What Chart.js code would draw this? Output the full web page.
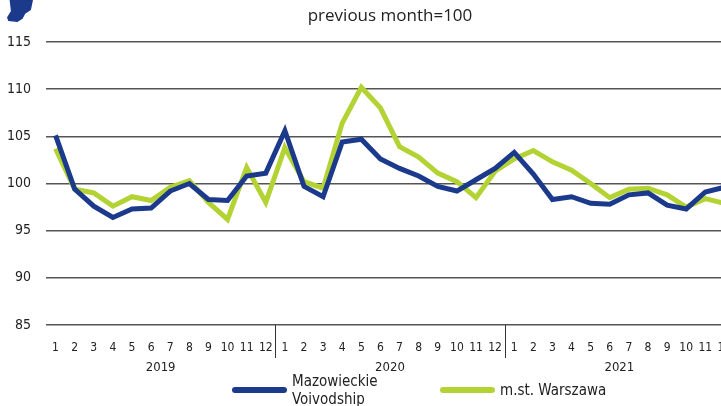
<!DOCTYPE html>
<html>
<head>
<meta charset="utf-8">
<script src="https://cdn.jsdelivr.net/npm/chart.js@4/dist/chart.umd.min.js"></script>
<style>
  html, body { margin: 0; padding: 0; background: #fff; overflow: hidden; }
  #wrap { position: relative; width: 721px; height: 406px; overflow: hidden; }
  #chart { position: absolute; left: 0; top: 0; }
  .blob { position: absolute; left: 7px; top: 0; width: 26px; height: 22px; background: #1c3a8c;
          clip-path: polygon(10% 0, 100% 0, 92% 45%, 70% 62%, 60% 85%, 40% 100%, 5% 95%, 0 80%, 15% 50%); }
  .legend { position: absolute; top: 372px; font-family: "Liberation Sans Narrow", "DejaVu Sans Condensed", sans-serif; font-size: 15px; color: #222; line-height: 18px; }
  .legend .sw { position: absolute; top: 15px; width: 55px; height: 6px; border-radius: 3px; }
  .legend .txt { position: absolute; white-space: nowrap; }
</style>
</head>
<body>
<div id="wrap">
  <canvas id="chart" width="742" height="406" style="width:742px;height:406px"></canvas>
  <div class="blob"></div>
  <div class="legend" style="left:232px">
    <div class="sw" style="left:0;background:#1c3a8c"></div>
    <div class="txt" style="left:60px;top:0">Mazowieckie<br>Voivodship</div>
  </div>
  <div class="legend" style="left:440px">
    <div class="sw" style="left:0;background:#b3d335"></div>
    <div class="txt" style="left:60px;top:9px">m.st. Warszawa</div>
  </div>
</div>
<script>
const years  = ['2019', '2020', '2021']
const months = ['1', '2', '3', '4', '5', '6', '7', '8', '9', '10', '11', '12']
const labels = years.flatMap(() => months)

const mazowieckie = [
  105.1, 99.4, 97.6, 96.4, 97.3, 97.4, 99.2, 100.0, 98.3, 98.2, 100.8, 101.1,
  105.6, 99.7, 98.6, 104.4, 104.7, 102.6, 101.6, 100.8, 99.7, 99.2, 100.4, 101.6,
  103.3, 101.0, 98.3, 98.6, 97.9, 97.8, 98.8, 99.0, 97.7, 97.3, 99.1, 99.6
]
const warszawa = [
  103.7, 99.4, 99.0, 97.6, 98.6, 98.2, 99.6, 100.3, 98.0, 96.2, 101.7, 98.0,
  103.8, 100.2, 99.5, 106.4, 110.2, 108.0, 103.9, 102.8, 101.1, 100.2, 98.5, 101.3,
  102.6, 103.5, 102.3, 101.4, 100.0, 98.5, 99.4, 99.5, 98.8, 97.5, 98.4, 97.9
]

const yTicks = [85, 90, 95, 100, 105, 110, 115]
const NAVY  = '#1c3a8c'
const GREEN = '#b3d335'
const TICK_FONT = '"Liberation Sans Narrow", "DejaVu Sans Condensed", sans-serif'

// title, year labels and separators under the month ticks
const extras = {
  id: 'extras',
  afterDraw(chart) {
    const { ctx, chartArea } = chart
    const x = chart.scales.x
    ctx.save()
    ctx.fillStyle = '#222'
    ctx.font = '17px "Open Sans", "Noto Sans", sans-serif'
    ctx.textAlign = 'center'
    ctx.textBaseline = 'middle'
    ctx.fillText('previous month=100', (chartArea.left + chartArea.right) / 2, 16)

    ctx.font = '13px ' + TICK_FONT
    years.forEach((yr, i) => {
      const a = x.getPixelForValue(i * 12)
      const b = x.getPixelForValue(i * 12 + 11)
      ctx.fillText(yr, (a + b) / 2, 368)
      if (i > 0) {
        const sx = Math.round((x.getPixelForValue(i * 12 - 1) + a) / 2) + 0.5
        ctx.strokeStyle = '#333'
        ctx.lineWidth = 1
        ctx.beginPath()
        ctx.moveTo(sx, chartArea.bottom)
        ctx.lineTo(sx, 358)
        ctx.stroke()
      }
    })
    ctx.restore()
  }
}

new Chart(document.getElementById('chart'), {
  type: 'line',
  data: {
    labels,
    datasets: [
      {
        label: 'm.st. Warszawa',
        data: warszawa,
        borderColor: GREEN,
        borderWidth: 5,
        pointRadius: 0,
        tension: 0,
        order: 2
      },
      {
        label: 'Mazowieckie Voivodship',
        data: mazowieckie,
        borderColor: NAVY,
        borderWidth: 5,
        pointRadius: 0,
        tension: 0,
        order: 1
      }
    ]
  },
  options: {
    responsive: false,
    animation: false,
    layout: { padding: { top: 42, right: 8, left: 0, bottom: 0 } },
    plugins: {
      legend: { display: false },
      tooltip: { enabled: false }
    },
    scales: {
      x: {
        offset: true,
        grid: { display: false },
        border: { display: false },
        ticks: {
          color: '#222',
          font: { family: TICK_FONT, size: 12 },
          maxRotation: 0,
          autoSkip: false,
          padding: 8
        },
        afterFit: s => { s.height = 81 }
      },
      y: {
        min: 85,
        max: 115,
        afterBuildTicks: s => { s.ticks = yTicks.map(v => ({ value: v })) },
        grid: { color: '#555', lineWidth: 1.5, drawTicks: false },
        border: { display: false },
        ticks: {
          color: '#222',
          font: { family: TICK_FONT, size: 14 },
          padding: 15
        },
        afterFit: s => { s.width = 46 }
      }
    }
  },
  plugins: [extras]
})
</script>
</body>
</html>
